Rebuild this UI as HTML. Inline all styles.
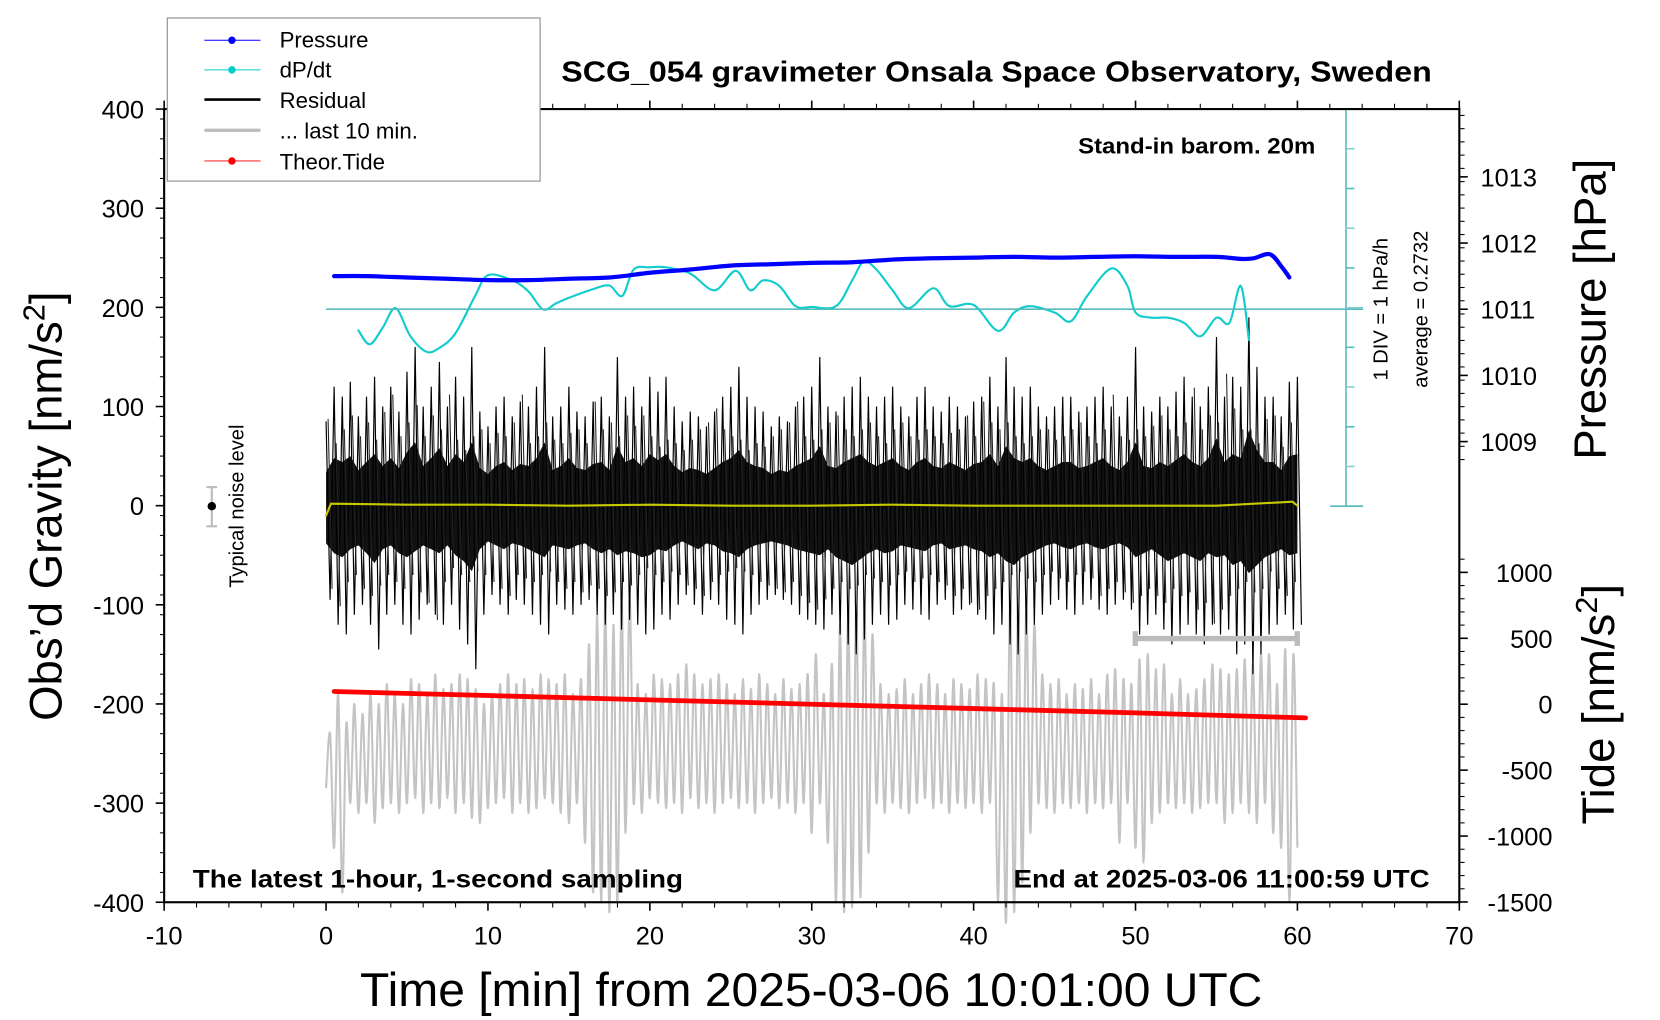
<!DOCTYPE html>
<html><head><meta charset="utf-8"><style>
html,body{margin:0;padding:0;background:#fff;}
svg{display:block;font-family:"Liberation Sans",sans-serif;}
</style></head><body>
<svg id="chart" width="1660" height="1020" viewBox="0 0 1567.5 963.2" preserveAspectRatio="none" xmlns="http://www.w3.org/2000/svg">
<g id="g-grey"></g>
<g id="g-res"></g>
<g id="g-yellow"></g>
<g id="g-tide"></g>
<g id="g-dpdt"></g>
<g id="g-press"></g>
<g id="g-axes"></g>
<rect x="155" y="103" width="1223" height="749" fill="none" stroke="#000" stroke-width="2"/>
<text x="530" y="77" font-size="27" font-weight="bold" textLength="822" lengthAdjust="spacingAndGlyphs">SCG_054 gravimeter Onsala Space Observatory, Sweden</text>
<text x="1018" y="145" font-size="21" font-weight="bold" textLength="224" lengthAdjust="spacingAndGlyphs">Stand-in barom. 20m</text>
<text x="182" y="838" font-size="24" font-weight="bold" textLength="463" lengthAdjust="spacingAndGlyphs">The latest 1-hour, 1-second sampling</text>
<text x="957" y="838" font-size="24" font-weight="bold" textLength="393" lengthAdjust="spacingAndGlyphs">End at 2025-03-06 11:00:59 UTC</text>
<text x="340" y="950" font-size="45" textLength="852" lengthAdjust="spacingAndGlyphs">Time [min] from 2025-03-06 10:01:00 UTC</text>
<text transform="translate(58,478) rotate(-90)" font-size="43" text-anchor="middle">Obs’d Gravity [nm/s<tspan font-size="29" dy="-16">2</tspan><tspan dy="16">]</tspan></text>
<text transform="translate(1516,292) rotate(-90)" font-size="43" text-anchor="middle">Pressure [hPa]</text>
<text transform="translate(1524,665) rotate(-90)" font-size="43" text-anchor="middle">Tide [nm/s<tspan font-size="29" dy="-16">2</tspan><tspan dy="16">]</tspan></text>
<text transform="translate(1310,292) rotate(-90)" font-size="19" text-anchor="middle">1 DIV = 1 hPa/h</text>
<text transform="translate(1348,292) rotate(-90)" font-size="19" text-anchor="middle">average = 0.2732</text>
<text transform="translate(230,478) rotate(-90)" font-size="19" text-anchor="middle">Typical noise level</text>
<g>
<line x1="200" y1="460" x2="200" y2="497" stroke="#bbb" stroke-width="2"/>
<line x1="195" y1="460" x2="205" y2="460" stroke="#bbb" stroke-width="2"/>
<line x1="195" y1="497" x2="205" y2="497" stroke="#bbb" stroke-width="2"/>
<circle cx="200" cy="478" r="4" fill="#000"/>
</g>
<g>
<line x1="1072" y1="603" x2="1225" y2="603" stroke="#bbb" stroke-width="5"/>
<line x1="1072" y1="596" x2="1072" y2="610" stroke="#bbb" stroke-width="5"/>
<line x1="1225" y1="596" x2="1225" y2="610" stroke="#bbb" stroke-width="5"/>
</g>
<g>
<rect x="158" y="17" width="352" height="154" fill="#fff" stroke="#999" stroke-width="1.2"/>
<g><line x1="193" y1="38" x2="246" y2="38" stroke="#00f" stroke-width="1"/><circle cx="219" cy="38" r="3.5" fill="#00f"/><text x="264" y="45" font-size="21">Pressure</text></g>
<g><line x1="193" y1="66" x2="246" y2="66" stroke="#0cc" stroke-width="1"/><circle cx="219" cy="66" r="3.5" fill="#0cc"/><text x="264" y="73" font-size="21">dP/dt</text></g>
<g><line x1="193" y1="94" x2="246" y2="94" stroke="#000" stroke-width="2.5"/><text x="264" y="102" font-size="21">Residual</text></g>
<g><line x1="193" y1="123" x2="246" y2="123" stroke="#bbb" stroke-width="3"/><text x="264" y="131" font-size="21">... last 10 min.</text></g>
<g><line x1="193" y1="152" x2="246" y2="152" stroke="#f33" stroke-width="1"/><circle cx="219" cy="152" r="3.5" fill="#f00"/><text x="264" y="160" font-size="21">Theor.Tide</text></g>
</g>
</svg>
<script>
// ---- data ----
const xTicks = [-10,0,10,20,30,40,50,60,70];
const yTicks = [400,300,200,100,0,-100,-200,-300,-400];
const pTicks = [1013,1012,1011,1010,1009];
const tideTicks = [1000,500,0,-500,-1000,-1500];
// residual envelope, 0.5 min steps from 0 to 60
const resUp = [85,120,110,125,90,110,130,100,120,95,135,160,100,120,145,100,130,110,160,95,80,100,110,90,105,100,120,160,90,100,120,95,90,105,110,90,150,110,120,100,130,115,130,100,85,95,90,80,95,110,120,140,110,100,95,80,90,85,100,110,120,150,100,95,110,120,130,110,100,110,120,100,90,110,120,100,95,110,100,90,105,110,130,100,150,120,110,120,100,90,100,110,110,95,100,110,120,100,90,110,160,100,95,110,100,115,130,110,100,120,170,110,130,120,190,140,110,110,90,125,130];
const resLo = [-95,-120,-130,-110,-100,-120,-145,-110,-100,-120,-130,-115,-100,-110,-120,-100,-125,-140,-165,-110,-90,-100,-110,-95,-100,-110,-120,-130,-100,-105,-110,-100,-95,-110,-120,-110,-125,-115,-120,-130,-125,-110,-115,-100,-90,-100,-110,-95,-100,-115,-120,-130,-110,-100,-95,-90,-95,-100,-110,-115,-120,-125,-110,-130,-140,-150,-135,-120,-110,-120,-115,-100,-105,-110,-115,-100,-95,-110,-105,-100,-110,-115,-130,-120,-140,-150,-130,-120,-110,-100,-95,-105,-110,-100,-95,-105,-110,-100,-95,-105,-130,-120,-110,-125,-140,-130,-120,-130,-140,-120,-130,-125,-150,-140,-170,-150,-130,-120,-110,-125,-120];
// grey "last 10 min" oscillation: peaks and troughs, 0.5 min steps
const greyHi = [-230,-190,-220,-200,-210,-190,-200,-180,-190,-200,-175,-180,-190,-170,-185,-180,-170,-175,-185,-200,-190,-180,-170,-180,-175,-185,-170,-175,-180,-170,-190,-175,-140,-110,-100,-120,-100,-95,-180,-190,-170,-175,-180,-170,-160,-170,-180,-175,-170,-180,-190,-175,-185,-170,-180,-190,-175,-185,-180,-170,-150,-190,-160,-120,-110,-100,-105,-130,-180,-190,-185,-175,-190,-180,-170,-180,-190,-175,-180,-185,-170,-175,-180,-190,-95,-100,-105,-120,-170,-180,-175,-190,-180,-185,-175,-190,-170,-165,-175,-180,-155,-150,-165,-160,-190,-175,-190,-185,-175,-160,-165,-170,-165,-155,-160,-150,-150,-180,-145,-150,-155];
const greyLo = [-285,-345,-390,-300,-310,-300,-320,-305,-300,-310,-300,-295,-310,-300,-305,-295,-310,-300,-315,-320,-305,-300,-295,-310,-300,-310,-305,-295,-300,-310,-320,-300,-340,-390,-400,-410,-400,-330,-300,-310,-295,-300,-305,-300,-310,-295,-305,-300,-310,-300,-295,-305,-300,-310,-300,-295,-305,-300,-310,-300,-330,-300,-340,-400,-410,-405,-395,-350,-300,-310,-300,-305,-310,-300,-295,-305,-300,-310,-300,-305,-300,-310,-300,-400,-420,-410,-380,-330,-300,-305,-310,-300,-305,-300,-310,-300,-305,-300,-340,-300,-345,-360,-320,-310,-300,-305,-300,-310,-305,-300,-300,-320,-310,-300,-310,-320,-300,-330,-345,-400,-345];
// yellow mean line
const yelTime = [0,0.3,5,10,15,20,25,30,35,40,45,50,55,59.7,60];
const yelVals = [-10,2,1,1,0,1,0,0,1,0,0,0,0,4,0];
// theoretical tide
const tideTime = [0.5,10,20,30,40,50,60.5];
const tideVals = [96,66,33,0,-33,-66,-104];
// pressure (hPa)
const pTime = [0.5,2.5,5,7.5,10,12.5,15,17.5,20,22.5,25,27.5,30,32.5,35,37.5,40,42.5,45,47.5,50,52.5,55,56.5,57.3,58.3,59,59.5];
const pVals = [1011.50,1011.50,1011.48,1011.46,1011.44,1011.44,1011.46,1011.48,1011.55,1011.60,1011.66,1011.68,1011.70,1011.71,1011.75,1011.77,1011.78,1011.79,1011.78,1011.79,1011.80,1011.79,1011.79,1011.76,1011.77,1011.83,1011.65,1011.48];
// dP/dt (hPa/h)
const dTime = [2,2.7,3.5,4.3,5.2,6.2,7,8,9.2,10,11.5,12.5,13.4,14.2,15,16.5,17.5,18.3,19,20,21,22.5,24,25.3,26.2,27,28,29,30,31.5,32.5,33.2,34,35,36,37.5,38.5,40,41.5,42.5,43.5,45,46,47,48.5,49.5,50,51,52,53,54,55,55.8,56.5,57];
const dVals = [-0.26,-0.61,-0.19,0.30,-0.40,-0.80,-0.70,-0.33,0.60,1.13,1.00,0.72,0.27,0.42,0.56,0.78,0.87,0.61,1.27,1.33,1.33,1.17,0.75,1.24,0.75,1.00,0.86,0.35,0.33,0.35,1.00,1.47,1.27,0.75,0.30,0.80,0.35,0.38,-0.27,0.19,0.35,0.19,-0.03,0.60,1.30,0.86,0.19,0.06,0.06,-0.07,-0.41,0.06,-0.07,0.86,-0.50];

// ---- scales ----
const X0=155, X1=1378, YT=103, YB=852;
const sx = t => X0 + (t+10)/80*(X1-X0);
const sy = v => YT + (400-v)/800*(YB-YT);
const sp = p => 292 - (p-1011)*62.5;
const st = v => 665 - v*0.1245;
const sd = v => 292 - (v-0.2732)*37.5;
const NS='http://www.w3.org/2000/svg';
function mk(tag, parent){const e=document.createElementNS(NS,tag);document.getElementById(parent).appendChild(e);return e;}
function smooth(pts){
  let d='M'+pts[0][0].toFixed(1)+','+pts[0][1].toFixed(1);
  for(let i=0;i<pts.length-1;i++){
    const p0=pts[Math.max(0,i-1)],p1=pts[i],p2=pts[i+1],p3=pts[Math.min(pts.length-1,i+2)];
    const c1=[p1[0]+(p2[0]-p0[0])/6,p1[1]+(p2[1]-p0[1])/6];
    const c2=[p2[0]-(p3[0]-p1[0])/6,p2[1]-(p3[1]-p1[1])/6];
    d+='C'+c1[0].toFixed(1)+','+c1[1].toFixed(1)+' '+c2[0].toFixed(1)+','+c2[1].toFixed(1)+' '+p2[0].toFixed(1)+','+p2[1].toFixed(1);
  }
  return d;
}

// grey
{
  const pts=[];
  for(let i=0;i<greyHi.length;i++){
    pts.push([sx(i*0.5),sy(greyLo[i])]);
    if(i<greyHi.length-1) pts.push([sx(i*0.5+0.25),sy(greyHi[i])]);
  }
  const p=mk('path','g-grey');
  
  
  p.setAttribute('d',smooth(pts));p.setAttribute('fill','none');p.setAttribute('stroke','#c4c4c4');p.setAttribute('stroke-width','2');
}
// residual band + spikes
{
  let d='';
  for(let i=0;i<resUp.length;i++){
    const t=i*0.5;
    d+='M'+sx(t).toFixed(1)+','+sy(resUp[i]).toFixed(1)+'L'+sx(t+0.25).toFixed(1)+','+sy(resLo[i]).toFixed(1);
    if(i<resUp.length-1) d+='L'+sx(t+0.5).toFixed(1)+','+sy(resUp[i+1]).toFixed(1);
  }
  const core=[];
  for(let i=0;i<resUp.length;i++) core.push(sx(i*0.5).toFixed(1)+','+sy(resUp[i]*0.4).toFixed(1));
  for(let i=resLo.length-1;i>=0;i--) core.push(sx(i*0.5).toFixed(1)+','+sy(resLo[i]*0.4).toFixed(1));
  const band=mk('polygon','g-res');
  
  
  band.setAttribute('points',core.join(' '));band.setAttribute('fill','#111');
  const sp1=mk('path','g-res');
  
  
  sp1.setAttribute('d',d);sp1.setAttribute('fill','none');sp1.setAttribute('stroke','#000');sp1.setAttribute('stroke-width','1.1');
  let d2='';
  for(let i=0;i<resUp.length-1;i++){
    const t=i*0.5+0.125;
    d2+='M'+sx(t).toFixed(1)+','+sy(resUp[(i+3)%resUp.length]*0.7).toFixed(1)+'L'+sx(t+0.25).toFixed(1)+','+sy(resLo[(i+5)%resLo.length]*0.7).toFixed(1);
  }
  const sp2=mk('path','g-res');
  
  
  sp2.setAttribute('d',d2);sp2.setAttribute('fill','none');sp2.setAttribute('stroke','#222');sp2.setAttribute('stroke-width','1');
}
function line(parent,name,ts,vs,scale,color,w,sm){
  const pts=ts.map((t,i)=>[sx(t),scale(vs[i])]);
  const p=mk('path',parent);
  
  
  p.setAttribute('d',sm?smooth(pts):'M'+pts.map(q=>q[0].toFixed(1)+','+q[1].toFixed(1)).join('L'));
  p.setAttribute('fill','none');p.setAttribute('stroke',color);p.setAttribute('stroke-width',w);p.setAttribute('stroke-linecap','round');
}
line('g-yellow','yellow-mean-line',yelTime,yelVals,sy,'#c8c800',2,false);
line('g-tide','tide-line',tideTime,tideVals,st,'#f00',4.5,false);
line('g-dpdt','dpdt-line',dTime,dVals,sd,'#1cc',2,true);
line('g-press','pressure-line',pTime,pVals,sp,'#00f',4,true);

// axes
function ln(x1,y1,x2,y2,c,w,name){const l=mk('line','g-axes');
  
  
  l.setAttribute('x1',x1);l.setAttribute('y1',y1);l.setAttribute('x2',x2);l.setAttribute('y2',y2);l.setAttribute('stroke',c);l.setAttribute('stroke-width',w);}
function tx(x,y,s,size,anchor,name){const e=mk('text','g-axes');
  
  
  e.setAttribute('x',x);e.setAttribute('y',y);e.setAttribute('font-size',size);e.setAttribute('text-anchor',anchor);e.textContent=s;}
ln(1271,103,1271,478,'#5bb','1.5','dpdt-axis');
ln(308,292,1287,292,'#5bb','1.5','dpdt-average-line');
for(let k=0;k<=10;k++){const y=103+k*37.5;ln(1271,y,(k%5==0)?1287:1279,y,(k%2)?'#8cc':'#5bb','1.5','dpdt-tick');}
ln(1256,103,1287,103,'#5bb','1.5','dpdt-top');ln(1256,478,1287,478,'#5bb','1.5','dpdt-bottom');
xTicks.forEach(t=>{const x=sx(t);ln(x,YB,x,YB+8,'#000',1.5,'x-tick');ln(x,YT,x,YT-8,'#000',1.5,'x-tick-top');tx(x,YB+40,String(t),24,'middle','x-tick-label');});
for(let t=-8;t<70;t+=2){if(t%10==0)continue;const x=sx(t);ln(x,YB,x,YB+5,'#000',1,'x-minor-tick');ln(x,YT,x,YT-5,'#000',1,'x-minor-tick-top');}
yTicks.forEach(v=>{const y=sy(v);ln(X0,y,X0-8,y,'#000',1.5,'y-tick');tx(X0-19,y+9,String(v),24,'end','y-tick-label');});
for(let v=-390;v<400;v+=20){const y=sy(v);ln(X0,y,X0-4,y,'#000',1,'y-minor-tick');}
pTicks.forEach(p=>{const y=sp(p);ln(X1,y,X1+8,y,'#000',1.5,'pressure-tick');tx(X1+20,y+9,String(p),24,'start','pressure-tick-label');});
for(let y=YT+6;y<440;y+=12.5){ln(X1,y,X1+5,y,'#000',1,'pressure-minor-tick');}
tideTicks.forEach(v=>{const y=st(v);ln(X1,y,X1+8,y,'#000',1.5,'tide-tick');tx(X1+88,y+9,String(v),24,'end','tide-tick-label');});
for(let v=-1400;v<=1100;v+=100){if(v%500==0)continue;const y=st(v);ln(X1,y,X1+5,y,'#000',1,'tide-minor-tick');}
</script>
</body></html>
